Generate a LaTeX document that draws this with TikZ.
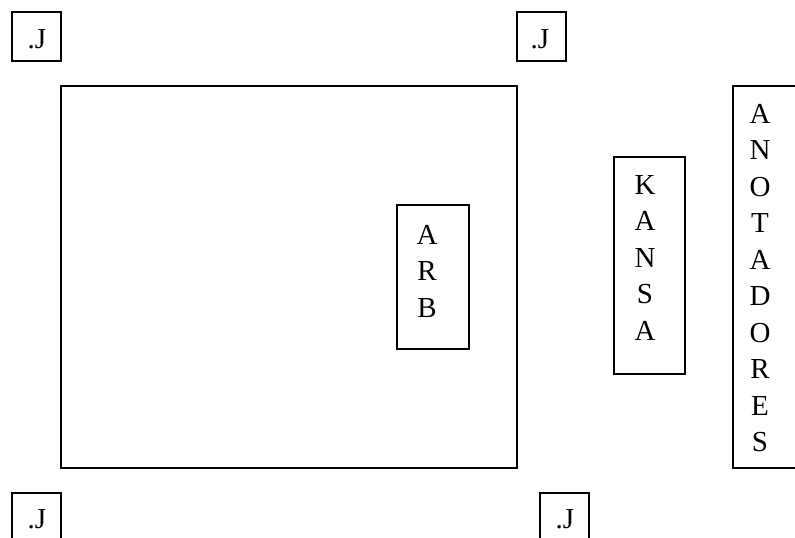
\documentclass[tikz,border=0pt]{standalone}
\usepackage{fontspec}
\setmainfont{Liberation Serif}
\begin{document}
\begin{tikzpicture}[x=1pt,y=-1pt,
  box/.style={draw=black, line width=2pt, inner sep=0pt},
  lbl/.style={inner sep=0pt, align=center, font=\fontsize{29}{36.5}\selectfont},
  jbox/.style={box, minimum width=49pt, minimum height=49pt, anchor=north west}]
\useasboundingbox (0,0) rectangle (795,538);
\clip (0,0) rectangle (795,538);
% corner boxes
\node[jbox] (jtl) at (10.5,10.5) {};
\node[jbox] (jtr) at (515.5,10.5) {};
\node[jbox] (jbl) at (10.5,491.5) {};
\node[jbox] (jbr) at (538.5,491.5) {};
\node[lbl, anchor=base] (tjtl) at (37,48) {.J};
\node[lbl, anchor=base] (tjtr) at (540,48) {.J};
\node[lbl, anchor=base] (tjbl) at (37,528) {.J};
\node[lbl, anchor=base] (tjbr) at (565,528) {.J};
% main frame
\node[box, minimum width=456pt, minimum height=382pt, anchor=north west] (frame) at (59.5,84.5) {};
% ARB
\node[box, minimum width=72pt, minimum height=144pt, anchor=north west] (arb) at (395.5,203.5) {};
\node[lbl, anchor=north] (tarb) at (427,225) {A\\R\\B};
% KANSA
\node[box, minimum width=71pt, minimum height=217pt, anchor=north west] (kansa) at (612.5,155.5) {};
\node[lbl, anchor=north] (tkansa) at (645,175) {K\\A\\N\\S\\A};
% ANOTADORES
\node[box, minimum width=80pt, minimum height=382pt, anchor=north west] (anot) at (731.5,84.5) {};
\node[lbl, anchor=north] (tanot) at (760,104) {A\\N\\O\\T\\A\\D\\O\\R\\E\\S};
\end{tikzpicture}
\end{document}
